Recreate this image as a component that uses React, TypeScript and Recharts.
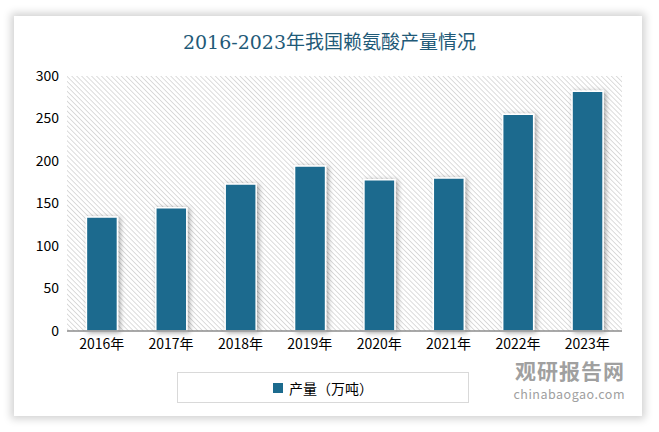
import { BarChart, Bar, XAxis, YAxis, CartesianGrid, Legend } from 'recharts'

const years = ['2016年', '2017年', '2018年', '2019年', '2020年', '2021年', '2022年', '2023年']
const output = [134, 145, 173, 194, 178, 180, 255, 282]
const yTicks = [0, 50, 100, 150, 200, 250, 300]

const data = years.map((year, i) => ({ year, output: output[i] }))

const sans = '"Microsoft YaHei", "Noto Sans CJK SC", sans-serif'

function LegendBox() {
  return (
    <div
      style={{
        width: 290,
        height: 29,
        border: '1px solid #d9d9d9',
        display: 'flex',
        alignItems: 'center',
        justifyContent: 'center',
        fontFamily: sans,
        fontSize: 14,
        color: '#000',
      }}
    >
      <span style={{ width: 10, height: 10, background: '#1c6b8e', marginRight: 6, display: 'inline-block' }} />
      产量（万吨）
    </div>
  )
}

export default function App() {
  return (
    <div style={{ position: 'absolute', left: 0, top: 0, width: 659, height: 432, background: '#fff' }}>
      <div
        style={{
          position: 'absolute',
          left: 14,
          top: 16,
          width: 628,
          height: 400,
          background: '#fff',
          boxShadow: '0 0 8px 3px rgba(0,0,0,0.18)',
        }}
      />
      <div
        style={{
          position: 'absolute',
          left: 0,
          top: 27,
          width: 659,
          textAlign: 'center',
          fontFamily: '"DejaVu Serif", "Noto Sans CJK SC", serif',
          fontSize: 19,
          color: '#1f5a78',
        }}
      >
        2016-2023年我国赖氨酸产量情况
      </div>
      <div style={{ position: 'absolute', left: 0, top: 0 }}>
        <BarChart width={659} height={432} data={data} margin={{ top: 76, right: 37, left: 17, bottom: 71 }} barCategoryGap="28%">
          <defs>
            <pattern id="hatch" width="3.5" height="3.5" patternUnits="userSpaceOnUse" patternTransform="rotate(-45)">
              <rect width="3.5" height="3.5" fill="#fff" />
              <line x1="0" y1="0" x2="0" y2="3.5" stroke="#d4d4d4" strokeWidth="1.6" />
            </pattern>
            <filter id="barShadow" x="-30%" y="-10%" width="160%" height="120%">
              <feDropShadow dx="2" dy="1" stdDeviation="2.5" floodColor="#000" floodOpacity="0.35" />
            </filter>
          </defs>
          <CartesianGrid fill="url(#hatch)" horizontal={false} vertical={false} />
          <XAxis
            dataKey="year"
            height={30}
            tickLine={false}
            axisLine={{ stroke: '#8c8c8c', strokeWidth: 1.5 }}
            tick={{ fontSize: 14, fill: '#000', fontFamily: sans }}
            interval={0}
          />
          <YAxis
            width={50}
            domain={[0, 300]}
            ticks={yTicks}
            axisLine={false}
            tickLine={false}
            tick={{ fontSize: 14, fill: '#000', fontFamily: sans }}
          />
          <Legend
            layout="horizontal"
            verticalAlign="middle"
            align="center"
            wrapperStyle={{ left: 177, top: 372, width: 292 }}
            content={() => <LegendBox />}
          />
          <Bar
            dataKey="output"
            name="产量（万吨）"
            fill="#1c6b8e"
            stroke="#fff"
            strokeWidth={1.5}
            filter="url(#barShadow)"
            isAnimationActive={false}
          />
        </BarChart>
      </div>
      <div
        style={{
          position: 'absolute',
          left: 500,
          top: 358,
          width: 125,
          textAlign: 'right',
          fontFamily: sans,
          color: '#a0a0a0',
        }}
      >
        <div style={{ fontSize: 21, fontWeight: 'bold', letterSpacing: 1, lineHeight: '24px' }}>观研报告网</div>
        <div style={{ fontSize: 12.5, letterSpacing: 0.5, lineHeight: '15px', marginTop: 4 }}>chinabaogao.com</div>
      </div>
    </div>
  )
}
